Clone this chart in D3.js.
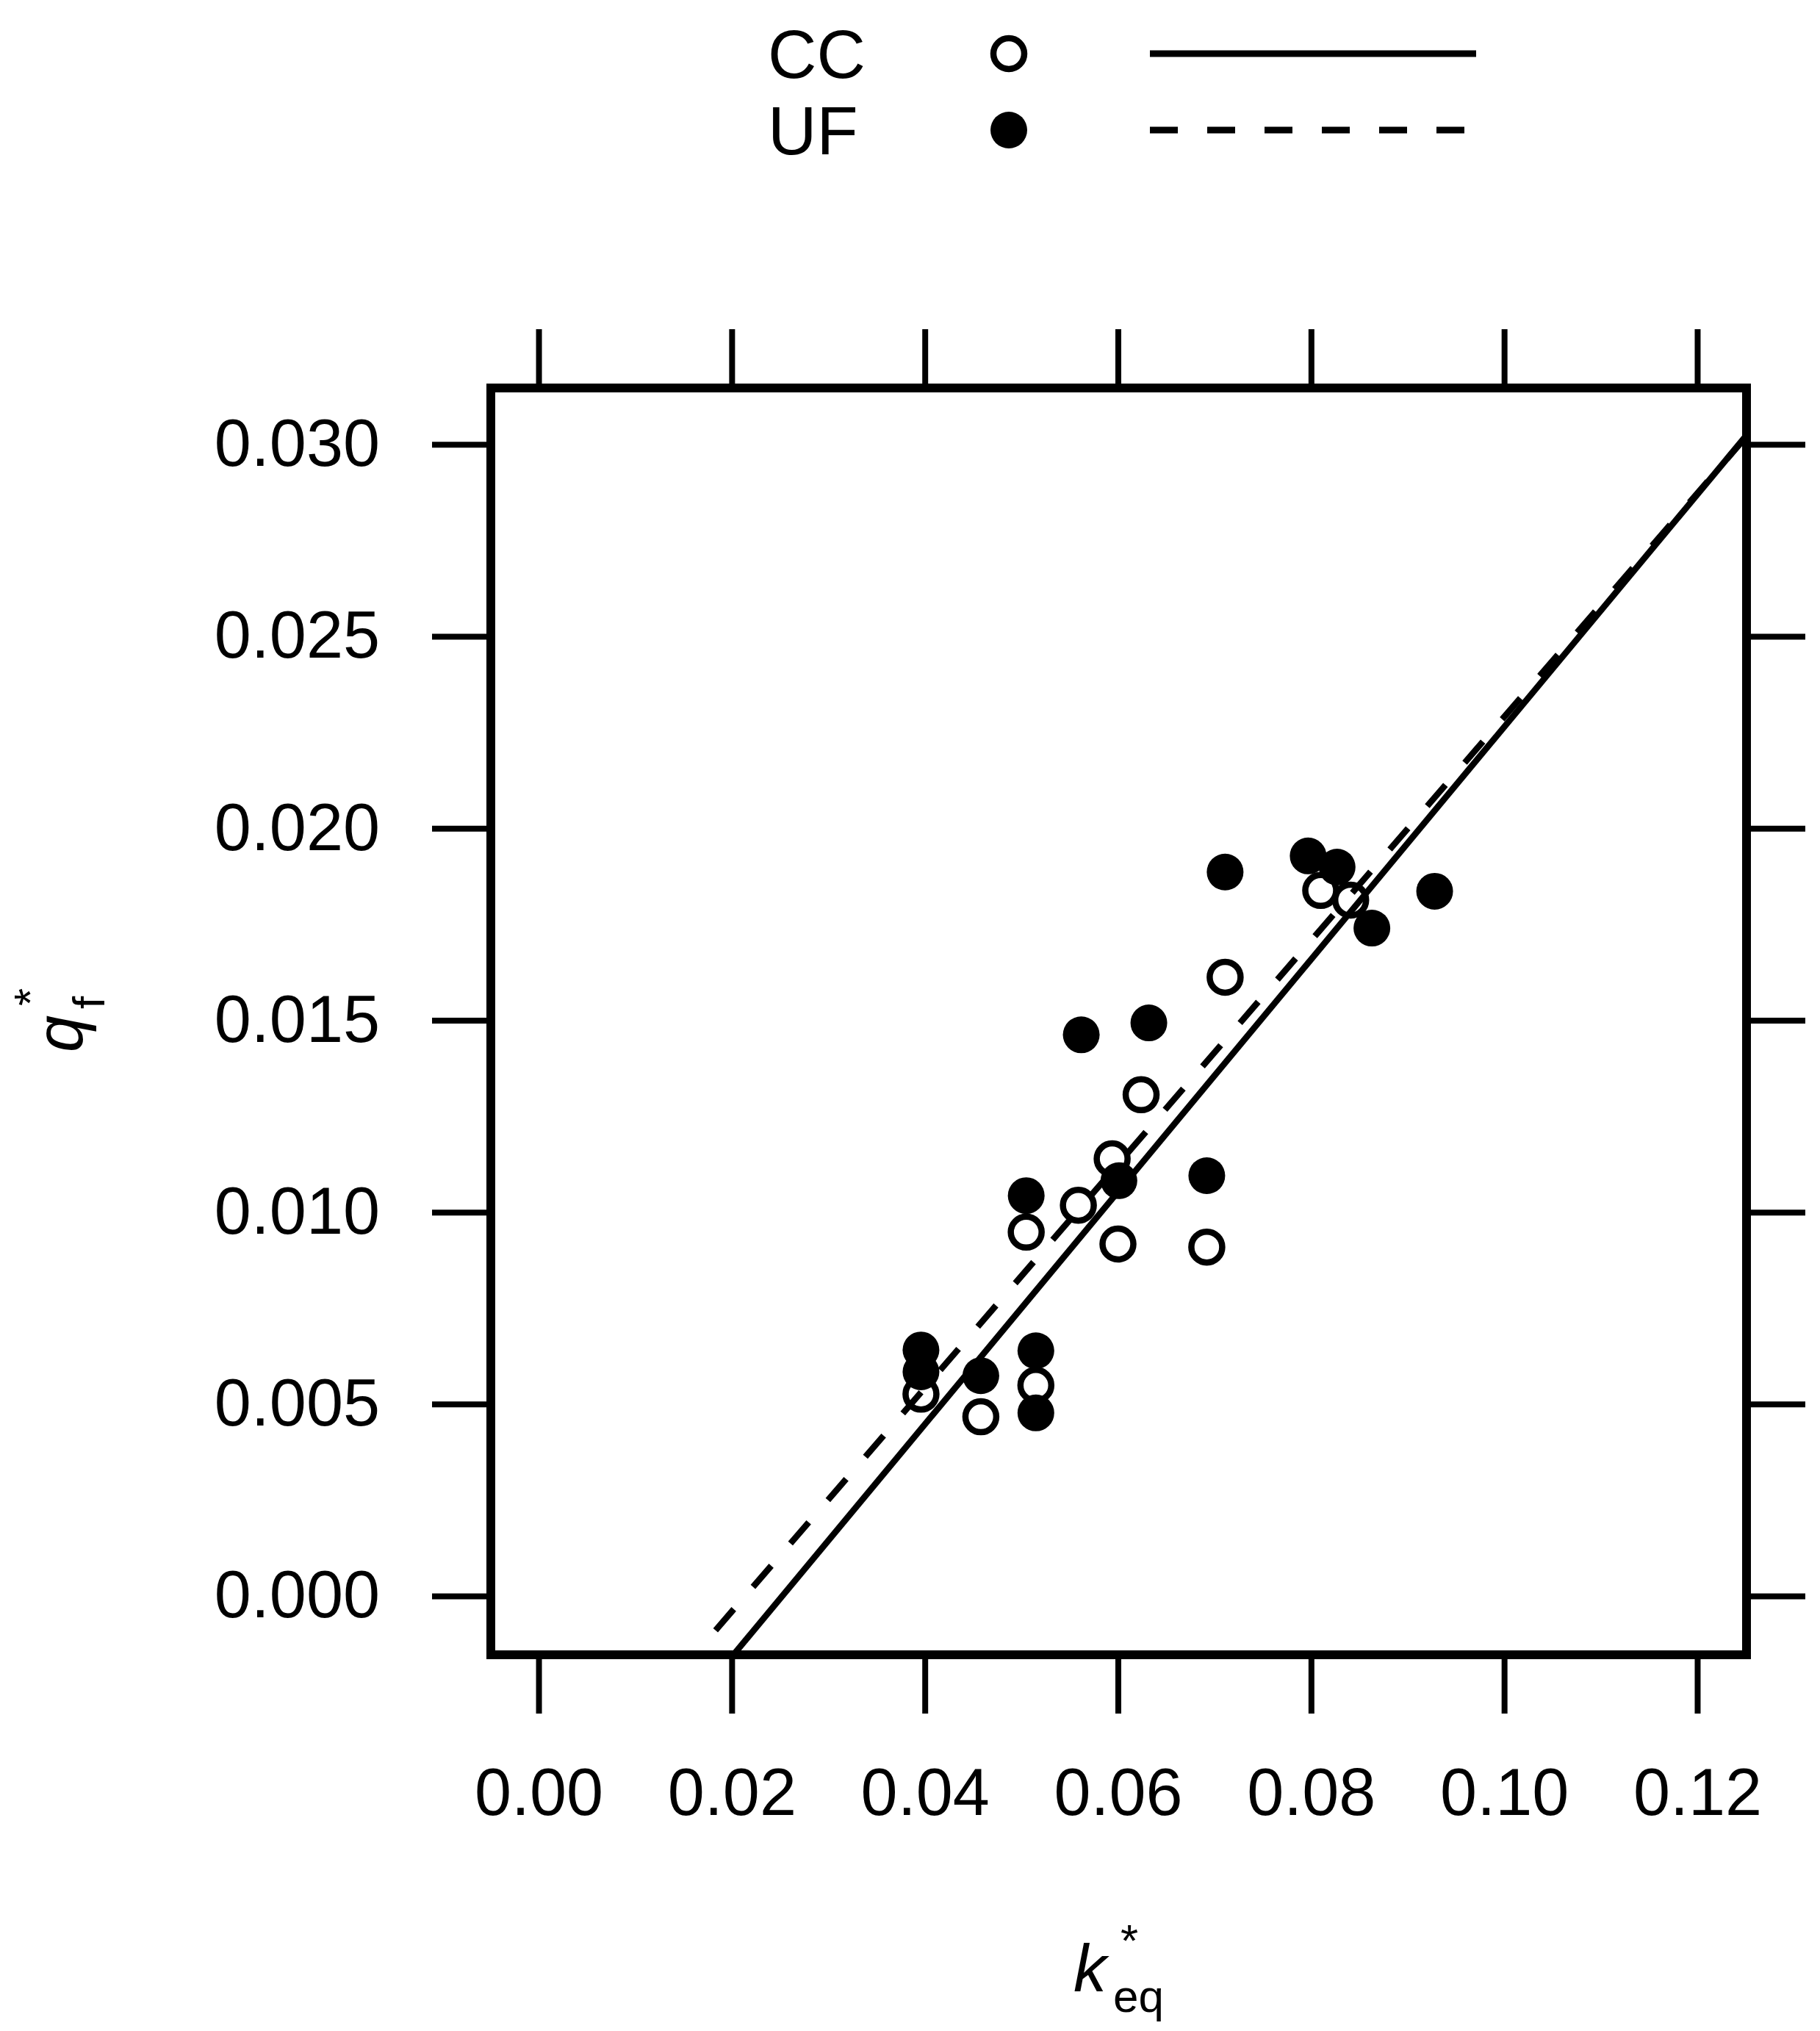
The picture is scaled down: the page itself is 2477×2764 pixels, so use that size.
<!DOCTYPE html>
<html>
<head>
<meta charset="utf-8">
<script src="https://cdn.jsdelivr.net/npm/d3@7"></script>
<style>
  body { margin: 0; background: #fff; }
  text { font-family: "Liberation Sans", Arial, sans-serif; fill: #000; }
</style>
</head>
<body>
<div id="chart"></div>
<script>
// values
const ccK = [0.0396, 0.0458, 0.0515, 0.0505, 0.0559, 0.0594, 0.0600, 0.0624, 0.0692, 0.0711, 0.0810, 0.0841];
const ccQ = [0.00526, 0.00467, 0.00549, 0.00948, 0.01018, 0.01139, 0.00917, 0.01306, 0.00909, 0.01612, 0.01838, 0.01813];
const ufK = [0.0396, 0.0396, 0.0458, 0.0515, 0.0515, 0.0505, 0.0562, 0.0632, 0.0601, 0.0692, 0.0711, 0.0797, 0.0827, 0.0928, 0.0863];
const ufQ = [0.00641, 0.00584, 0.00574, 0.00639, 0.00477, 0.01043, 0.01462, 0.01493, 0.01082, 0.01095, 0.01886, 0.01928, 0.01899, 0.01836, 0.01740];
// fitted lines: intercept, slope
const ccFit = [-0.00764, 0.3028];
const ufFit = [-0.00623, 0.2913];
const xTicks = [0.00, 0.02, 0.04, 0.06, 0.08, 0.10, 0.12];
const yTicks = [0.000, 0.005, 0.010, 0.015, 0.020, 0.025, 0.030];

const W = 2477, H = 2764;
const pLeft = 668, pRight = 2377, pTop = 528, pBottom = 2252;

const svg = d3.select('#chart').append('svg')
  .attr('width', W).attr('height', H);

const x = d3.scaleLinear().domain([-0.00495, 0.1251]).range([pLeft, pRight]);
const y = d3.scaleLinear().domain([-0.00153, 0.03147]).range([pBottom, pTop]);

// axes
const tickLen = 80;
function styleAxis(g) {
  g.select('.domain').remove();
  g.selectAll('.tick line').attr('stroke', '#000').attr('stroke-width', 8);
  g.selectAll('.tick text').attr('font-size', 90).attr('fill', '#000')
    .attr('font-family', '"Liberation Sans", Arial, sans-serif');
}
svg.append('g').attr('transform', `translate(${pLeft},0)`)
  .call(d3.axisLeft(y).tickValues(yTicks).tickFormat(d3.format('.3f')).tickSize(tickLen).tickPadding(71))
  .call(styleAxis);
svg.append('g').attr('transform', `translate(0,${pBottom})`)
  .call(d3.axisBottom(x).tickValues(xTicks).tickFormat(d3.format('.2f')).tickSize(tickLen).tickPadding(74))
  .call(styleAxis);
svg.append('g').attr('transform', `translate(${pRight},0)`)
  .call(d3.axisRight(y).tickValues(yTicks).tickFormat('').tickSize(tickLen))
  .call(styleAxis);
svg.append('g').attr('transform', `translate(0,${pTop})`)
  .call(d3.axisTop(x).tickValues(xTicks).tickFormat('').tickSize(tickLen))
  .call(styleAxis);

// clip for regression lines
svg.append('clipPath').attr('id', 'panel')
  .append('rect').attr('x', pLeft).attr('y', pTop)
  .attr('width', pRight - pLeft).attr('height', pBottom - pTop);

const xd = x.domain();
function fitLine(fit) {
  return [xd[0], xd[1]].map(k => [x(k), y(fit[0] + fit[1] * k)]);
}

// CC points then line
svg.append('g').selectAll('circle')
  .data(d3.zip(ccK, ccQ))
  .join('circle')
  .attr('cx', d => x(d[0])).attr('cy', d => y(d[1])).attr('r', 21)
  .attr('fill', 'none').attr('stroke', '#000').attr('stroke-width', 8.5);
svg.append('path')
  .attr('clip-path', 'url(#panel)')
  .attr('d', d3.line()(fitLine(ccFit)))
  .attr('stroke', '#000').attr('stroke-width', 8.5).attr('fill', 'none');

// UF points then line
svg.append('g').selectAll('circle')
  .data(d3.zip(ufK, ufQ))
  .join('circle')
  .attr('cx', d => x(d[0])).attr('cy', d => y(d[1])).attr('r', 25)
  .attr('fill', '#000');
svg.append('path')
  .attr('clip-path', 'url(#panel)')
  .attr('d', d3.line()(fitLine(ufFit)))
  .attr('stroke', '#000').attr('stroke-width', 8.5).attr('fill', 'none')
  .attr('stroke-dasharray', '38,40');

// panel border
svg.append('rect')
  .attr('x', pLeft).attr('y', pTop)
  .attr('width', pRight - pLeft).attr('height', pBottom - pTop)
  .attr('fill', 'none').attr('stroke', '#000').attr('stroke-width', 12);

// legend
const legend = [
  { name: 'CC', fill: false, dash: null, y: 73 },
  { name: 'UF', fill: true, dash: '38,40', y: 177 }
];
legend.forEach(d => {
  svg.append('text').attr('x', 1045).attr('y', d.y + 33)
    .attr('font-size', 92).text(d.name);
  svg.append('circle').attr('cx', 1373).attr('cy', d.y)
    .attr('r', d.fill ? 25 : 21)
    .attr('fill', d.fill ? '#000' : 'none')
    .attr('stroke', d.fill ? 'none' : '#000').attr('stroke-width', 8.5);
  svg.append('line').attr('x1', 1565).attr('x2', 2009)
    .attr('y1', d.y).attr('y2', d.y)
    .attr('stroke', '#000').attr('stroke-width', 9)
    .attr('stroke-dasharray', d.dash);
});

// x title: k*_eq
const xt = svg.append('g');
xt.append('text').attr('x', 1461).attr('y', 2710)
  .attr('font-size', 90).attr('font-style', 'italic').text('k');
xt.append('text').attr('x', 1515).attr('y', 2738)
  .attr('font-size', 62).text('eq');
xt.append('text').attr('x', 1525).attr('y', 2662)
  .attr('font-size', 62).text('*');

// y title: q*_f
const yt = svg.append('g').attr('transform', 'translate(112,1390) rotate(-90)');
yt.append('text').attr('x', -42).attr('y', 0)
  .attr('font-size', 90).attr('font-style', 'italic').text('q');
yt.append('text').attr('x', 17).attr('y', 30)
  .attr('font-size', 62).text('f');
yt.append('text').attr('x', 21).attr('y', -50)
  .attr('font-size', 62).text('*');
</script>
</body>
</html>
